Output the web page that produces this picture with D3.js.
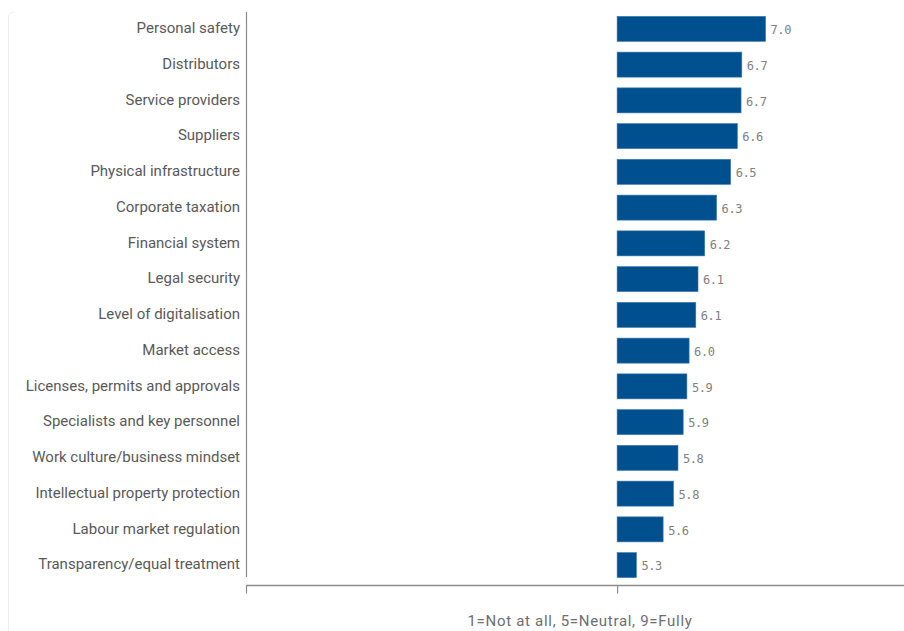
<!DOCTYPE html>
<html><head><meta charset="utf-8">
<script src="https://cdn.jsdelivr.net/npm/d3@7/dist/d3.min.js"></script>
<style>body{margin:0;background:#fff}</style></head>
<body><svg id="c" width="904" height="631"></svg>
<script>
const categories = ["Personal safety","Distributors","Service providers","Suppliers","Physical infrastructure","Corporate taxation","Financial system","Legal security","Level of digitalisation","Market access","Licenses, permits and approvals","Specialists and key personnel","Work culture/business mindset","Intellectual property protection","Labour market regulation","Transparency/equal treatment"];
const values = [7.0,6.68,6.67,6.62,6.53,6.34,6.18,6.09,6.06,5.97,5.94,5.89,5.82,5.76,5.62,5.26];
const baseline = 5;
const xTicks = [0,5];
const axisTitle = "1=Not at all, 5=Neutral, 9=Fully";

const svg = d3.select("#c");
svg.append("path").attr("d","M8.5,631 L8.5,18 Q8.5,12 14.5,12").attr("fill","none").attr("stroke","#eeeeee");

const x = d3.scaleLinear().domain([0,9]).range([246,914]);
const y = d3.scaleBand().domain(categories).range([11,583]).paddingInner(0.3).paddingOuter(0.15);

svg.append("line").attr("x1",246.5).attr("x2",246.5).attr("y1",12).attr("y2",577).attr("stroke","#8c8c8c").attr("stroke-width",1.2);
const ax = svg.append("g").attr("transform","translate(0,585.5)");
ax.append("line").attr("x1",246).attr("x2",904).attr("stroke","#8c8c8c").attr("stroke-width",1.5);
ax.selectAll("line.t").data(xTicks).join("line").attr("class","t").attr("x1",d=>x(d)+0.5).attr("x2",d=>x(d)+0.5).attr("y1",0).attr("y2",8).attr("stroke","#8c8c8c").attr("stroke-width",1.2);

svg.selectAll("text.cat").data(categories).join("text").attr("class","cat")
  .attr("x",240).attr("y",d=>y(d)+y.bandwidth()/2-1).attr("dy","0.35em").attr("text-anchor","end")
  .attr("font-family","Roboto, sans-serif").attr("font-size",15).attr("fill","#595959").text(d=>d);

svg.selectAll("rect.bar").data(values).join("rect").attr("class","bar")
  .attr("x",x(baseline)).attr("y",(d,i)=>y(categories[i])).attr("width",d=>x(d)-x(baseline)).attr("height",y.bandwidth())
  .attr("fill","#00508f").attr("stroke","#3a78ad").attr("stroke-width",0.6);

svg.selectAll("text.val").data(values).join("text").attr("class","val")
  .attr("x",d=>x(d)+5).attr("y",(d,i)=>y(categories[i])+y.bandwidth()/2+1).attr("dy","0.35em")
  .attr("font-family","DejaVu Sans Mono, monospace").attr("font-size",12).attr("letter-spacing",-0.4).attr("fill","#808080").text(d=>d3.format(".1f")(d));

svg.append("text").attr("x",580).attr("y",626).attr("text-anchor","middle")
  .attr("font-family","Roboto, sans-serif").attr("font-size",15).attr("letter-spacing",0.7).attr("fill","#6e6e6e").text(axisTitle);
</script></body></html>
